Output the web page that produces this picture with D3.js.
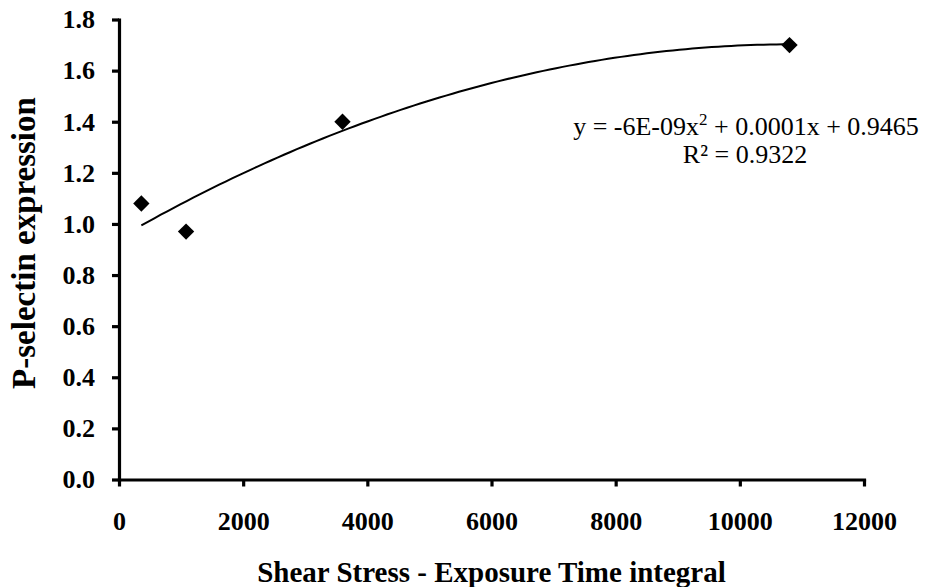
<!DOCTYPE html>
<html>
<head>
<meta charset="utf-8">
<script src="https://cdn.jsdelivr.net/npm/d3@7"></script>
<style>
  html, body { margin: 0; padding: 0; background: #fff; }
  svg { display: block; }
  .axis path, .axis line { stroke: #000; stroke-width: 3.2; }
</style>
</head>
<body>
<svg id="chart" width="929" height="587"></svg>
<script>
// Shear stress–exposure time integral vs. P-selectin expression
const exposure = [360, 1080, 3600, 10800];
const pselectin = [1.08, 0.97, 1.40, 1.70];
const xTicks = [0, 2000, 4000, 6000, 8000, 10000, 12000];
const yTicks = [0, 0.2, 0.4, 0.6, 0.8, 1.0, 1.2, 1.4, 1.6, 1.8];
const xTitle = "Shear Stress - Exposure Time integral";
const yTitle = "P-selectin expression";
const eqParts = ["y = -6E-09x", "2", " + 0.0001x + 0.9465"];
const r2Label = "R² = 0.9322";

const serif = '"Liberation Serif", "Times New Roman", Times, serif';
const svg = d3.select("#chart");
const x = d3.scaleLinear().domain([0, 12000]).range([119, 864]);
const y = d3.scaleLinear().domain([0, 1.8]).range([479.5, 19.5]);

// Least-squares quadratic trend line through the points
function quadFit(xs, ys) {
  const n = xs.length;
  let S = [0, 0, 0, 0, 0], T = [0, 0, 0];
  for (let i = 0; i < n; i++) {
    const xi = xs[i] / 1000, yi = ys[i];
    for (let k = 0; k < 5; k++) S[k] += Math.pow(xi, k);
    for (let k = 0; k < 3; k++) T[k] += yi * Math.pow(xi, k);
  }
  const M = [[S[0], S[1], S[2], T[0]], [S[1], S[2], S[3], T[1]], [S[2], S[3], S[4], T[2]]];
  for (let i = 0; i < 3; i++) {
    for (let j = i + 1; j < 3; j++) {
      const f = M[j][i] / M[i][i];
      for (let k = i; k < 4; k++) M[j][k] -= f * M[i][k];
    }
  }
  const c = [0, 0, 0];
  for (let i = 2; i >= 0; i--) {
    let s = M[i][3];
    for (let k = i + 1; k < 3; k++) s -= M[i][k] * c[k];
    c[i] = s / M[i][i];
  }
  return v => { const t = v / 1000; return c[0] + c[1] * t + c[2] * t * t; };
}
const fit = quadFit(exposure, pselectin);
const x0 = d3.min(exposure), x1 = d3.max(exposure);
const trend = d3.range(0, 101).map(i => {
  const v = x0 + (x1 - x0) * i / 100;
  return [v, fit(v)];
});

// Axes
const gx = svg.append("g")
  .attr("class", "axis")
  .attr("transform", `translate(0,${y(0)})`)
  .call(d3.axisBottom(x).tickValues(xTicks).tickFormat(d3.format("d")).tickSize(7).tickSizeOuter(0).tickPadding(25));

const gy = svg.append("g")
  .attr("class", "axis")
  .attr("transform", `translate(${x(0)},0)`)
  .call(d3.axisLeft(y).tickValues(yTicks).tickFormat(d3.format(".1f")).tickSize(7).tickSizeOuter(0).tickPadding(17));

[gx, gy].forEach(g => {
  g.attr("font-family", null).attr("font-size", null);
  g.selectAll("text")
    .style("font-family", serif)
    .style("font-weight", "bold")
    .style("font-size", "26px")
    .style("fill", "#000");
  g.select(".domain").attr("stroke-linecap", "square");
});

// Trend line
svg.append("path")
  .datum(trend)
  .attr("fill", "none")
  .attr("stroke", "#000")
  .attr("stroke-width", 2)
  .attr("d", d3.line().x(d => x(d[0])).y(d => y(d[1])));

// Diamond markers
const diamond = d3.symbol().type(d3.symbolDiamond2).size(170);
svg.append("g")
  .selectAll("path")
  .data(exposure.map((v, i) => [v, pselectin[i]]))
  .join("path")
  .attr("transform", d => `translate(${x(d[0])},${y(d[1])})`)
  .attr("d", diamond)
  .attr("fill", "#000");

// Equation and R² annotation
const eq = svg.append("text")
  .attr("x", 746)
  .attr("y", 135)
  .attr("text-anchor", "middle")
  .style("font-family", serif)
  .style("font-size", "26px");
eq.append("tspan").text(eqParts[0]);
eq.append("tspan").attr("dy", -10).style("font-size", "17px").text(eqParts[1]);
eq.append("tspan").attr("dy", 10).text(eqParts[2]);

svg.append("text")
  .attr("x", 745)
  .attr("y", 163)
  .attr("text-anchor", "middle")
  .style("font-family", serif)
  .style("font-size", "26px")
  .text(r2Label);

// Axis titles
svg.append("text")
  .attr("x", (x(0) + x(12000)) / 2)
  .attr("y", 582)
  .attr("text-anchor", "middle")
  .style("font-family", serif)
  .style("font-weight", "bold")
  .style("font-size", "29px")
  .text(xTitle);

svg.append("text")
  .attr("transform", "translate(35,243) rotate(-90)")
  .attr("text-anchor", "middle")
  .style("font-family", serif)
  .style("font-weight", "bold")
  .style("font-size", "33px")
  .text(yTitle);
</script>
</body>
</html>
